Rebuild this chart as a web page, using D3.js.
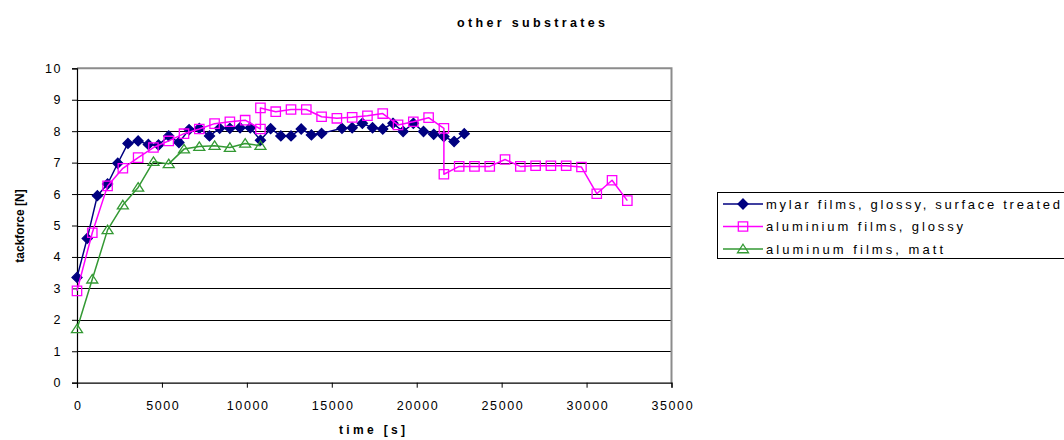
<!DOCTYPE html>
<html>
<head>
<meta charset="utf-8">
<script src="https://cdn.jsdelivr.net/npm/d3@7"></script>
<style>
  html, body { margin: 0; padding: 0; background: #fff; }
  svg { display: block; font-family: "Liberation Sans", Arial, sans-serif; }
</style>
</head>
<body>
<svg id="chart" width="1064" height="440"></svg>
<script>
// Tack force over time for three substrate types
const seriesNames = [
  "mylar films, glossy, surface treated",
  "aluminium films, glossy",
  "aluminum films, matt"
];

const mylarTime = [0, 600, 1200, 1800, 2400, 3000, 3600, 4200, 4800, 5400, 6000, 6600, 7200, 7800,
  8400, 9000, 9600, 10200, 10800, 11400, 12000, 12600, 13200, 13800, 14400, 15600, 16200, 16800,
  17400, 18000, 18600, 19200, 19800, 20400, 21000, 21600, 22200, 22800];
const mylarForce = [3.35, 4.59, 5.95, 6.32, 6.98, 7.61, 7.69, 7.58, 7.56, 7.85, 7.64, 8.05, 8.09, 7.85,
  8.09, 8.09, 8.11, 8.11, 7.71, 8.08, 7.85, 7.85, 8.07, 7.88, 7.93, 8.09, 8.11, 8.25,
  8.11, 8.07, 8.25, 7.99, 8.25, 7.99, 7.90, 7.83, 7.67, 7.92];

const glossyTime = [0, 900, 1800, 2700, 3600, 4500, 5400, 6300, 7200, 8100, 9000, 9900, 10800, 10800,
  11700, 12600, 13500, 14400, 15300, 16200, 17100, 18000, 18900, 19800, 20700, 21600, 21600,
  22500, 23400, 24300, 25200, 26100, 27000, 27900, 28800, 29700, 30600, 31500, 32400];
const glossyForce = [2.92, 4.77, 6.26, 6.82, 7.16, 7.48, 7.69, 7.92, 8.07, 8.24, 8.30, 8.35, 8.07, 8.74,
  8.62, 8.69, 8.69, 8.46, 8.41, 8.44, 8.49, 8.56, 8.20, 8.30, 8.43, 8.09, 6.63,
  6.88, 6.88, 6.88, 7.10, 6.88, 6.90, 6.90, 6.90, 6.86, 6.01, 6.44, 5.79];

const mattTime = [0, 900, 1800, 2700, 3600, 4500, 5400, 6300, 7200, 8100, 9000, 9900, 10800];
const mattForce = [1.71, 3.29, 4.86, 5.65, 6.21, 7.03, 6.96, 7.43, 7.51, 7.54, 7.48, 7.61, 7.54];

const xTicks = [0, 5000, 10000, 15000, 20000, 25000, 30000, 35000];
const yTicks = [0, 1, 2, 3, 4, 5, 6, 7, 8, 9, 10];

const svg = d3.select("#chart");
const plotLeft = 77, plotRight = 671.5, plotTop = 68.3, plotBottom = 382.7;

const x = d3.scaleLinear().domain([0, 35000]).range([plotLeft, plotRight]);
const y = d3.scaleLinear().domain([0, 10]).range([plotBottom, plotTop]);

// Marker shapes
const diamond = { draw(ctx, size) { const r = Math.sqrt(size) / 2;
  ctx.moveTo(0, -r); ctx.lineTo(r, 0); ctx.lineTo(0, r); ctx.lineTo(-r, 0); ctx.closePath(); } };
const square = { draw(ctx, size) { const r = Math.sqrt(size) / 2;
  ctx.moveTo(-r, -r); ctx.lineTo(r, -r); ctx.lineTo(r, r); ctx.lineTo(-r, r); ctx.closePath(); } };
const triangle = { draw(ctx, size) { const r = Math.sqrt(size) / 2;
  ctx.moveTo(0, -r * 0.95); ctx.lineTo(r * 1.1, r * 0.75); ctx.lineTo(-r * 1.1, r * 0.75); ctx.closePath(); } };

const series = [
  { name: seriesNames[0], t: mylarTime, f: mylarForce, color: "#000080", shape: diamond, size: 100, fill: "#000080" },
  { name: seriesNames[1], t: glossyTime, f: glossyForce, color: "#FF00FF", shape: square, size: 88, fill: "none" },
  { name: seriesNames[2], t: mattTime, f: mattForce, color: "#339933", shape: triangle, size: 100, fill: "none" }
];

// Title
svg.append("text")
  .attr("x", 531).attr("y", 27)
  .attr("text-anchor", "middle")
  .attr("font-size", 12.5).attr("font-weight", "bold")
  .attr("textLength", 148).attr("lengthAdjust", "spacing")
  .text("other substrates");

// Horizontal gridlines
svg.append("g").selectAll("line")
  .data(yTicks.filter(v => v > 0 && v < 10))
  .join("line")
  .attr("x1", plotLeft).attr("x2", plotRight)
  .attr("y1", d => Math.round(y(d)) + 0.5).attr("y2", d => Math.round(y(d)) + 0.5)
  .attr("stroke", "#000").attr("stroke-width", 1);

// Plot frame (top and right)
svg.append("path")
  .attr("d", `M${plotLeft},${plotTop} H${plotRight} V${plotBottom}`)
  .attr("fill", "none").attr("stroke", "#8c8c8c").attr("stroke-width", 2);

// Axes
const yAxis = d3.axisLeft(y).tickValues(yTicks).tickSize(5).tickPadding(10).tickFormat(d3.format("d"));
const xAxis = d3.axisBottom(x).tickValues(xTicks).tickSize(5).tickPadding(13).tickFormat(d3.format("d"));

const gy = svg.append("g").attr("transform", `translate(${plotLeft},0)`).call(yAxis);
const gx = svg.append("g").attr("transform", `translate(0,${plotBottom})`).call(xAxis);
[gx, gy].forEach(g => {
  g.select(".domain").attr("stroke", "#000").attr("stroke-width", 1.2);
  g.selectAll(".tick line").attr("stroke", "#000");
  g.selectAll(".tick text")
    .attr("font-family", "Liberation Sans, Arial, sans-serif")
    .attr("font-size", 12.5).attr("fill", "#000")
    .attr("letter-spacing", "1.6px");
});
gx.selectAll(".tick text").attr("dx", "0.8px");

// Axis titles
svg.append("text")
  .attr("x", 372).attr("y", 434)
  .attr("text-anchor", "middle")
  .attr("font-size", 12).attr("font-weight", "bold")
  .attr("textLength", 66).attr("lengthAdjust", "spacing")
  .text("time [s]");

svg.append("text")
  .attr("transform", "translate(24,226) rotate(-90)")
  .attr("text-anchor", "middle")
  .attr("font-size", 12).attr("font-weight", "bold")
  .text("tackforce [N]");

// Series lines and markers
const line = d3.line().x(d => x(d[0])).y(d => y(d[1]));

series.forEach(s => {
  const pts = s.t.map((t, i) => [t, s.f[i]]);
  const g = svg.append("g");
  g.append("path")
    .attr("d", line(pts))
    .attr("fill", "none").attr("stroke", s.color).attr("stroke-width", 1.5)
    .attr("stroke-linejoin", "round");
  g.selectAll("path.m")
    .data(pts).join("path").attr("class", "m")
    .attr("transform", d => `translate(${x(d[0])},${y(d[1])})`)
    .attr("d", d3.symbol(s.shape, s.size))
    .attr("fill", s.fill).attr("stroke", s.color).attr("stroke-width", 1.3);
});

// Legend
const lg = svg.append("g");
lg.append("rect")
  .attr("x", 717.5).attr("y", 192.5).attr("width", 360).attr("height", 66)
  .attr("fill", "#fff").attr("stroke", "#000").attr("stroke-width", 1);
const legendWidths = [294, 197, 177];
series.forEach((s, i) => {
  const cy = 204 + i * 22.5;
  lg.append("line").attr("x1", 723).attr("x2", 763).attr("y1", cy).attr("y2", cy)
    .attr("stroke", s.color).attr("stroke-width", 1.5);
  lg.append("path")
    .attr("transform", `translate(743,${cy})`)
    .attr("d", d3.symbol(s.shape, s.size))
    .attr("fill", s.fill).attr("stroke", s.color).attr("stroke-width", 1.3);
  lg.append("text")
    .attr("x", 766).attr("y", cy + 4.5)
    .attr("font-size", 13)
    .attr("textLength", legendWidths[i]).attr("lengthAdjust", "spacing")
    .text(s.name);
});
</script>
</body>
</html>
